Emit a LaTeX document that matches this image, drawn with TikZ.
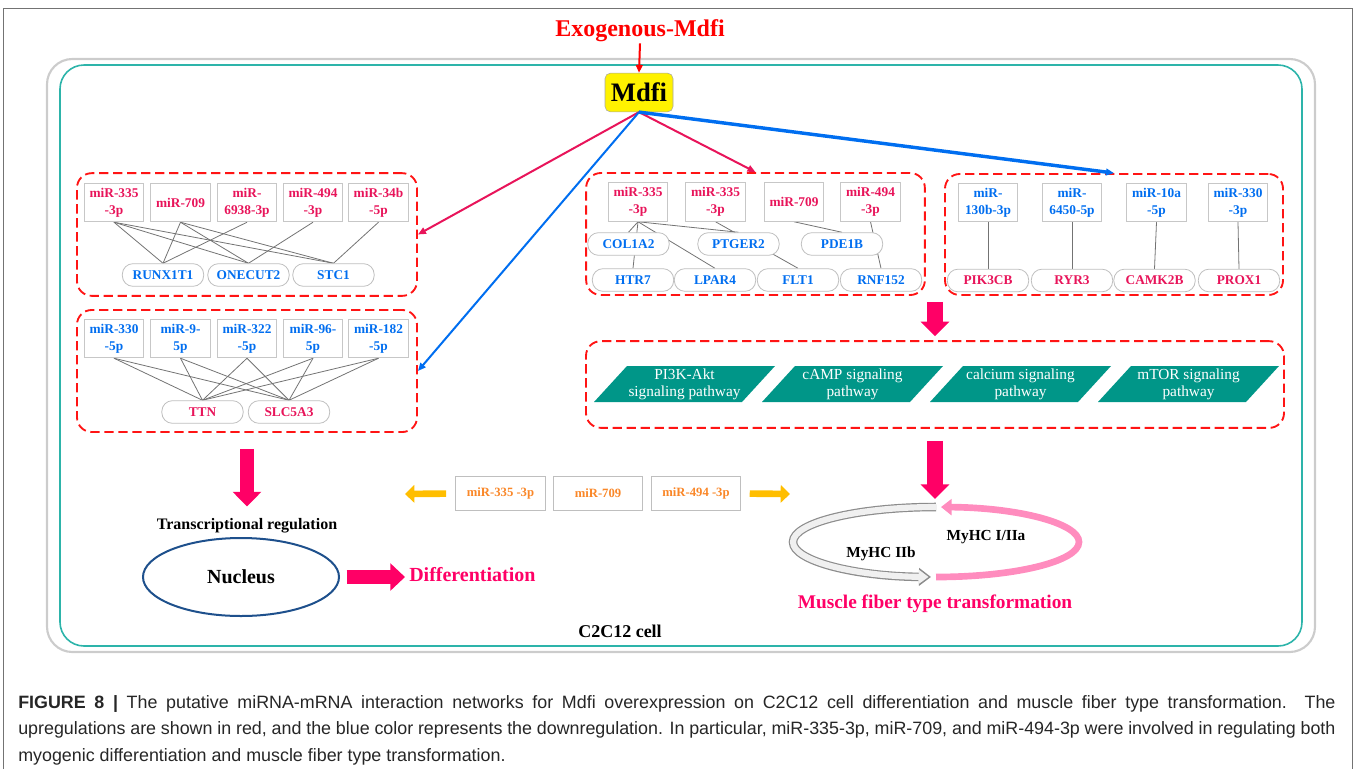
\documentclass[tikz,border=0pt]{standalone}
\usepackage{fontspec}
\setmainfont{Liberation Serif}
\setsansfont{Liberation Sans}
\usetikzlibrary{arrows.meta,backgrounds,shapes.geometric}

\definecolor{upred}{RGB}{232,20,90}
\definecolor{dnblue}{RGB}{0,110,240}
\definecolor{grpred}{RGB}{255,20,20}
\definecolor{arrpink}{RGB}{255,0,102}
\definecolor{cellteal}{RGB}{45,180,170}
\definecolor{pathteal}{RGB}{0,150,136}
\definecolor{mirorange}{RGB}{250,135,40}
\definecolor{arrgold}{RGB}{255,190,0}
\definecolor{nucblue}{RGB}{30,80,140}
\definecolor{cyclepink}{RGB}{255,140,190}

\tikzset{
  mir/.style={draw=black!22, fill=white, line width=0.6pt, minimum width=44.5pt, minimum height=29pt, inner sep=0pt, align=center, font=\bfseries\fontsize{10}{12.5}\selectfont},
  gene/.style={draw=black!25, fill=white, line width=0.6pt, rounded corners=8pt, minimum width=61pt, minimum height=17pt, inner sep=0pt, font=\bfseries\fontsize{10}{12}\selectfont},
  grp/.style={draw=grpred, line width=1.4pt, dash pattern=on 7pt off 3.5pt, rounded corners=11pt, inner sep=0pt},
  link/.style={draw=black!55, line width=0.6pt},
  uparr/.style={draw=upred, line width=1.5pt, -{Triangle[length=6pt,width=5pt]}},
  dnarr/.style={draw=dnblue, line width=1.5pt, -{Triangle[length=6pt,width=5pt]}},
  fatarr/.style={draw=arrpink, line width=12pt, -{Triangle[length=11pt,width=21pt]}},
  goldarr/.style={draw=arrgold, line width=5pt, -{Triangle[length=7pt,width=13pt]}},
  orbox/.style={draw=black!25, fill=white, line width=0.6pt, minimum width=67pt, minimum height=25pt, inner sep=0pt, text=mirorange, font=\bfseries\fontsize{9.5}{11}\selectfont},
  capline/.style={anchor=west, inner sep=0pt, text=black!85, font=\sffamily\fontsize{13.4}{15}\selectfont},
}

\begin{document}
\begin{tikzpicture}[x=0.75pt,y=0.75pt,yscale=-1,xscale=1]
\useasboundingbox (0,0) rectangle (1354,769);

%Shape: Figure frame
\draw [draw=black!55, line width=0.75pt] (3.5,769) -- (3.5,8) -- (1352,8) -- (1352,769) ;
%Shape: Rectangle (cell shadow)
\draw [draw=black!20, line width=1.6pt, rounded corners=19pt] (47,59) rectangle (1315,652) ;
%Shape: Rectangle (cell)
\draw [draw=cellteal, line width=1.2pt, rounded corners=18pt] (60,65) rectangle (1302,646) ;

% Text Node
\node (exo) at (640,31) [inner sep=0.75pt, text=red, font=\bfseries\fontsize{18}{20}\selectfont] {Exogenous-Mdfi};
% Text Node
\node (mdfi) at (639,92.5) [draw=black!35, fill=yellow, rounded corners=4pt, minimum width=51pt, minimum height=29pt, inner sep=0pt, font=\bfseries\fontsize{20}{22}\selectfont] {Mdfi};

%Shape: Dashed groups
\node (grpA) at (247,234.5) [grp, minimum width=255pt, minimum height=92pt] {};
\node (grpB) at (247,371) [grp, minimum width=255pt, minimum height=91.5pt] {};
\node (grpC) at (755.5,234) [grp, minimum width=254pt, minimum height=91.5pt] {};
\node (grpD) at (1114,234.5) [grp, minimum width=253.5pt, minimum height=90.75pt] {};
\node (grpE) at (935,384.5) [grp, minimum width=523.5pt, minimum height=65pt] {};

% upregulated miRNAs, group A
\node (a1) at (114,202.5) [mir, text=upred] {miR-335\\-3p};
\node (a2) at (180.5,202.5) [mir, text=upred] {miR-709};
\node (a3) at (247,202.5) [mir, text=upred] {miR-\\6938-3p};
\node (a4) at (313,202.5) [mir, text=upred] {miR-494\\-3p};
\node (a5) at (378.5,202.5) [mir, text=upred] {miR-34b\\-5p};
\node (ga1) at (163,275) [gene, text=dnblue] {RUNX1T1};
\node (ga2) at (248.5,275) [gene, text=dnblue] {ONECUT2};
\node (ga3) at (333.5,275) [gene, text=dnblue] {STC1};

% downregulated miRNAs, group B
\node (b1) at (114,338.5) [mir, text=dnblue] {miR-330\\-5p};
\node (b2) at (180.5,338.5) [mir, text=dnblue] {miR-9-\\5p};
\node (b3) at (247,338.5) [mir, text=dnblue] {miR-322\\-5p};
\node (b4) at (313,338.5) [mir, text=dnblue] {miR-96-\\5p};
\node (b5) at (378.5,338.5) [mir, text=dnblue] {miR-182\\-5p};
\node (gb1) at (202.5,412) [gene, text=upred] {TTN};
\node (gb2) at (289,412) [gene, text=upred] {SLC5A3};

% upregulated miRNAs, group C
\node (c1) at (638,202) [mir, text=upred] {miR-335\\-3p};
\node (c2) at (715.5,202) [mir, text=upred] {miR-335\\-3p};
\node (c3) at (794,202) [mir, text=upred] {miR-709};
\node (c4) at (870.5,202) [mir, text=upred] {miR-494\\-3p};
\node (gc1) at (628.5,244) [gene, text=dnblue] {COL1A2};
\node (gc2) at (738.5,244) [gene, text=dnblue] {PTGER2};
\node (gc3) at (842,244) [gene, text=dnblue] {PDE1B};
\node (gc4) at (633,280) [gene, text=dnblue] {HTR7};
\node (gc5) at (715,280) [gene, text=dnblue] {LPAR4};
\node (gc6) at (798,280) [gene, text=dnblue] {FLT1};
\node (gc7) at (881,280) [gene, text=dnblue] {RNF152};

% downregulated miRNAs, group D
\node (d1) at (988,202.5) [mir, text=dnblue] {miR-\\130b-3p};
\node (d2) at (1072,202.5) [mir, text=dnblue] {miR-\\6450-5p};
\node (d3) at (1156.5,202.5) [mir, text=dnblue] {miR-10a\\-5p};
\node (d4) at (1238,202.5) [mir, text=dnblue] {miR-330\\-3p};
\node (gd1) at (988,280.5) [gene, text=upred] {PIK3CB};
\node (gd2) at (1072,280.5) [gene, text=upred] {RYR3};
\node (gd3) at (1154.5,280.5) [gene, text=upred] {CAMK2B};
\node (gd4) at (1239,280.5) [gene, text=upred] {PROX1};

%Straight Lines: miRNA-mRNA links
\begin{pgfonlayer}{background}
\foreach \m/\g in {a1/ga1,a1/ga2,a1/ga3,a2/ga1,a2/ga2,a2/ga3,a3/ga1,a4/ga2,a5/ga3,c1/gc1,c1/gc4,c1/gc5,c1/gc2,c2/gc6,c3/gc3,c4/gc7}
  \draw [link] (\m.south) -- (\g.north) ;
\foreach \i in {1,...,5}
  \foreach \j in {1,2}
    \draw [link] (b\i.south) -- (gb\j.north) ;
\foreach \i in {1,...,4}
  \draw [link] (d\i.south) -- (gd\i.north) ;
\end{pgfonlayer}

%Shape: Parallelograms (pathways)
\foreach \i/\txt in {0/{PI3K-Akt\\signaling pathway},1/{cAMP signaling\\pathway},2/{calcium signaling\\pathway},3/{mTOR signaling\\pathway}}{
  \draw [draw=none, fill=pathteal] (594+168*\i,402) -- ++(33,-36) -- ++(148,0) -- ++(-33,36) -- cycle ;
  \node (pw\i) at (684.5+168*\i,384.5) [inner sep=0pt, align=center, text=white, font=\fontsize{11.5}{12.5}\selectfont] {\txt};
}

%Straight Lines: Mdfi arrows
\draw [red, line width=1.5pt, -{Triangle[length=6pt,width=5pt]}] (exo.south) -- (mdfi.north) ;
\draw [uparr] (mdfi.south) -- (grpA.east) ;
\draw [dnarr] (mdfi.south) -- (grpB.east) ;
\draw [uparr] (mdfi.south) -- (grpC.north) ;
\draw [dnarr, line width=2.6pt] (mdfi.south) -- (grpD.north) ;

% Text Node
\node (treg) at (247,526) [inner sep=0pt, font=\bfseries\fontsize{12}{14}\selectfont] {Transcriptional regulation};
%Shape: Ellipse
\node (nuc) at (241,577) [ellipse, draw=nucblue, line width=1.5pt, minimum width=147pt, minimum height=58.5pt, inner sep=0pt, font=\bfseries\fontsize{15}{17}\selectfont] {Nucleus};
% Text Node
\node (diff) at (409,575) [anchor=west, inner sep=0pt, text=arrpink, font=\bfseries\fontsize{15}{17}\selectfont] {Differentiation};

%Block arrows
\draw [fatarr, line width=10.5pt, shorten <=12pt, shorten >=9pt] (grpB.south) -- (grpB.south |- treg.north) ;
\draw [fatarr, line width=11pt, -{Triangle[length=11pt,width=20pt]}, shorten <=5pt, shorten >=3pt] (nuc.east) -- (nuc.east -| diff.west) ;
\draw [fatarr, shorten <=4.5pt, shorten >=3pt] (grpD.south -| grpE.north) -- (grpE.north) ;
\coordinate (cyc) at (936,542);
\coordinate (cyctop) at (936,507);
\draw [fatarr, shorten <=9pt, shorten >=6pt] (grpE.south) -- (grpE.south |- cyctop) ;

% shared miRNAs
\node (o1) at (500.5,493.5) [orbox] {miR-335 -3p};
\node (o2) at (598,493.5) [orbox] {miR-709};
\node (o3) at (696,493.5) [orbox] {miR-494 -3p};
\coordinate (goldL) at (405,494);
\coordinate (goldR) at (790,494);
\draw [goldarr, shorten <=7pt] (o1.west) -- (goldL) ;
\draw [goldarr, shorten <=6.5pt] (o3.east) -- (goldR) ;

%Curve Lines: fibre type cycle
\draw [draw=black!45, line width=6.4pt, -{Triangle[length=9pt,width=13pt]}] (cyc) ++(0,-35) arc [start angle=270, end angle=92, x radius=143, y radius=35] ;
\draw [draw=black!6, line width=4.6pt, -{Triangle[length=7.5pt,width=10.5pt]}] (cyc) ++(0,-35) arc [start angle=270, end angle=93, x radius=143, y radius=35] ;
\draw [draw=cyclepink, line width=5pt, -{Triangle[length=8pt,width=12pt]}] (cyc) ++(0,35) arc [start angle=90, end angle=-88, x radius=143, y radius=35] ;

% Text Node
\node (myh1) at (986,537) [inner sep=0pt, font=\bfseries\fontsize{11.5}{13}\selectfont] {MyHC I/IIa};
\node (myh2) at (881,554) [inner sep=0pt, font=\bfseries\fontsize{11.5}{13}\selectfont] {MyHC IIb};
\node (mft) at (935,604) [inner sep=0pt, text=arrpink, font=\bfseries\fontsize{14.5}{16}\selectfont] {Muscle fiber type transformation};
\node (cell) at (620,631) [inner sep=0pt, font=\bfseries\fontsize{13.5}{15}\selectfont] {C2C12 cell};

% Caption
\node (cap1) at (18,704) [capline] {\makebox[988pt][s]{\textbf{FIGURE 8 |} The putative miRNA-mRNA interaction networks for Mdfi overexpression on C2C12 cell differentiation and muscle fiber type transformation. The}};
\node (cap2) at (18,730) [capline] {\makebox[988pt][s]{upregulations are shown in red, and the blue color represents the downregulation. In particular, miR-335-3p, miR-709, and miR-494-3p were involved in regulating both}};
\node (cap3) at (18,757) [capline] {myogenic differentiation and muscle fiber type transformation.};

\end{tikzpicture}
\end{document}
